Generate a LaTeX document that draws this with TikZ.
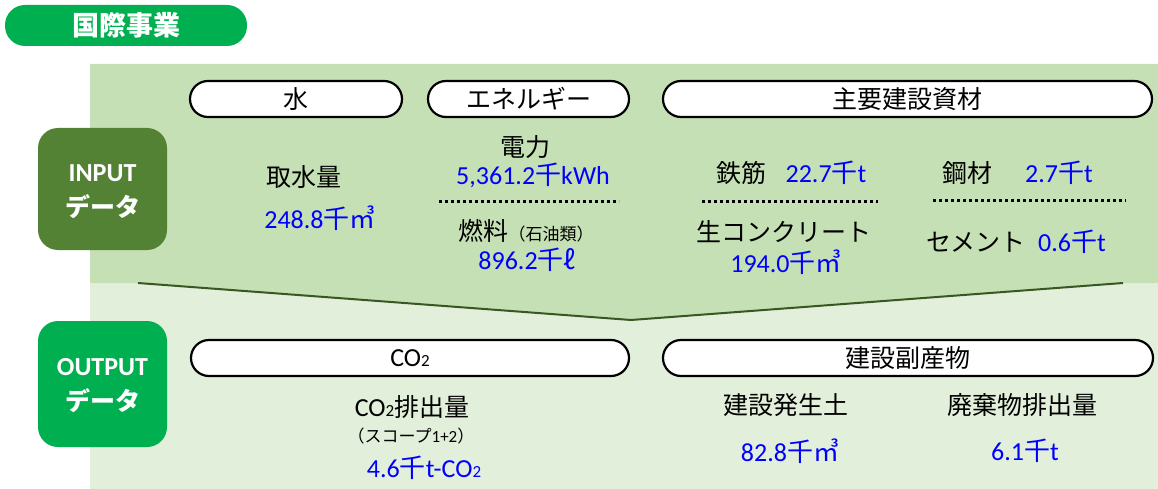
\documentclass[tikz,border=0pt]{standalone}
\usepackage{fontspec}
\setmainfont{Carlito}
\newfontfamily\jp{Noto Sans CJK JP}
\definecolor{titlegreen}{HTML}{00B050}
\definecolor{ingreen}{HTML}{548235}
\definecolor{upfill}{HTML}{C5E0B4}
\definecolor{lowfill}{HTML}{E2EFDA}
\definecolor{vlinecol}{HTML}{385723}
\definecolor{numblue}{HTML}{0000FF}
\newcommand\fs[1]{\fontsize{#1}{#1}\selectfont}
\newcommand\sen{{\jp 千}}
\newcommand\msq{{\jp ㎥}}
\newcommand\subtwo{{\fs{17}2}}
\begin{document}
\begin{tikzpicture}[x=1pt,y=-1pt,
  pill/.style={draw=black, line width=2.2pt, fill=white, rounded corners=18pt,
    minimum height=36pt, inner sep=0pt, font=\jp\fs{25}},
  lbl/.style={inner sep=0pt, font=\jp\fs{25}},
  small/.style={inner sep=0pt, font=\jp\fs{17}},
  val/.style={inner sep=0pt, text=numblue, font=\fs{26}},
  databox/.style={rounded corners=20pt, inner sep=0pt, minimum width=129pt},
  boxtxt/.style={inner sep=0pt, text=white, font=\bfseries\fs{26}},
  boxjp/.style={inner sep=0pt, text=white, font=\jp\bfseries\fs{25}},
  dotline/.style={line width=3pt, dash pattern=on 3pt off 3pt},
]
\useasboundingbox (0,0) rectangle (1158,489);
% background regions
\fill[lowfill] (90,283) rectangle (1158,489);
\fill[upfill] (90,64) -- (1158,64) -- (1158,283) -- (1123,283) -- (631,320) -- (138,283) -- (90,283) -- cycle;
\draw[vlinecol, line width=2pt] (138,283) -- (631,320) -- (1123,283);

% title
\node[fill=titlegreen, rounded corners=20pt, minimum width=242pt, minimum height=41pt,
  inner sep=0pt, text=white, font=\jp\bfseries\fs{27}] (title) at (126,25.5) {国際事業};

% data boxes
\node[databox, fill=ingreen, minimum height=122pt] (inbox) at (102.5,189) {};
\node[boxtxt] (intxt) at (102.5,173) {INPUT};
\node[boxjp] (injp) at (102.5,207) {データ};
\node[databox, fill=titlegreen, minimum height=126pt] (outbox) at (102.5,384) {};
\node[boxtxt] (outtxt) at (102.5,367) {OUTPUT};
\node[boxjp] (outjp) at (102.5,401) {データ};

% input pills
\node[pill, minimum width=212pt] (pwater) at (296,99) {水};
\node[pill, minimum width=201pt] (penergy) at (528.5,99) {エネルギー};
\node[pill, minimum width=489pt] (pmat) at (907.5,99) {主要建設資材};

% water
\node[lbl] (l1) at (304,177) {取水量};
\node[val] (v1) at (320,218) {248.8\sen\msq};

% energy
\node[lbl] (l2) at (525,147) {電力};
\node[val] (v2) at (533,175) {5,361.2\sen kWh};
\draw[dotline] (439,201) -- (619,201);
\node[inner sep=0pt] (l3) at (526,231) {{\jp\fs{25}燃料}{\jp\fs{17}（石油類）}};
\node[val] (v3) at (527,260) {896.2{\jp 千ℓ}};

% materials
\node[lbl] (l4) at (741,173) {鉄筋};
\node[val] (v4) at (826,173) {22.7\sen t};
\draw[dotline] (702,201) -- (878,201);
\node[lbl] (l5) at (784,232) {生コンクリート};
\node[val] (v5) at (786,262) {194.0\sen\msq};
\node[lbl] (l6) at (967,173) {鋼材};
\node[val] (v6) at (1059,173) {2.7\sen t};
\draw[dotline] (933,200) -- (1126,200);
\node[lbl] (l7) at (976,242) {セメント};
\node[val] (v7) at (1072,242) {0.6\sen t};

% output pills
\node[pill, minimum width=438pt, font=\fs{26}] (pco2) at (410,358) {CO\subtwo};
\node[pill, minimum width=490pt] (pbyp) at (908,358) {建設副産物};

% CO2
\node[inner sep=0pt] (l8) at (412,407) {{\fs{26}CO\subtwo}{\jp\fs{25}排出量}};
\node[small] (l9) at (411,436) {（スコープ{\fontspec{Carlito}1+2}）};
\node[val] (v8) at (424,468) {4.6\sen t-CO\subtwo};

% by-products
\node[lbl] (l10) at (786,405) {建設発生土};
\node[val] (v9) at (790,451) {82.8\sen\msq};
\node[lbl] (l11) at (1022,405) {廃棄物排出量};
\node[val] (v10) at (1025,451) {6.1\sen t};
\end{tikzpicture}
\end{document}
